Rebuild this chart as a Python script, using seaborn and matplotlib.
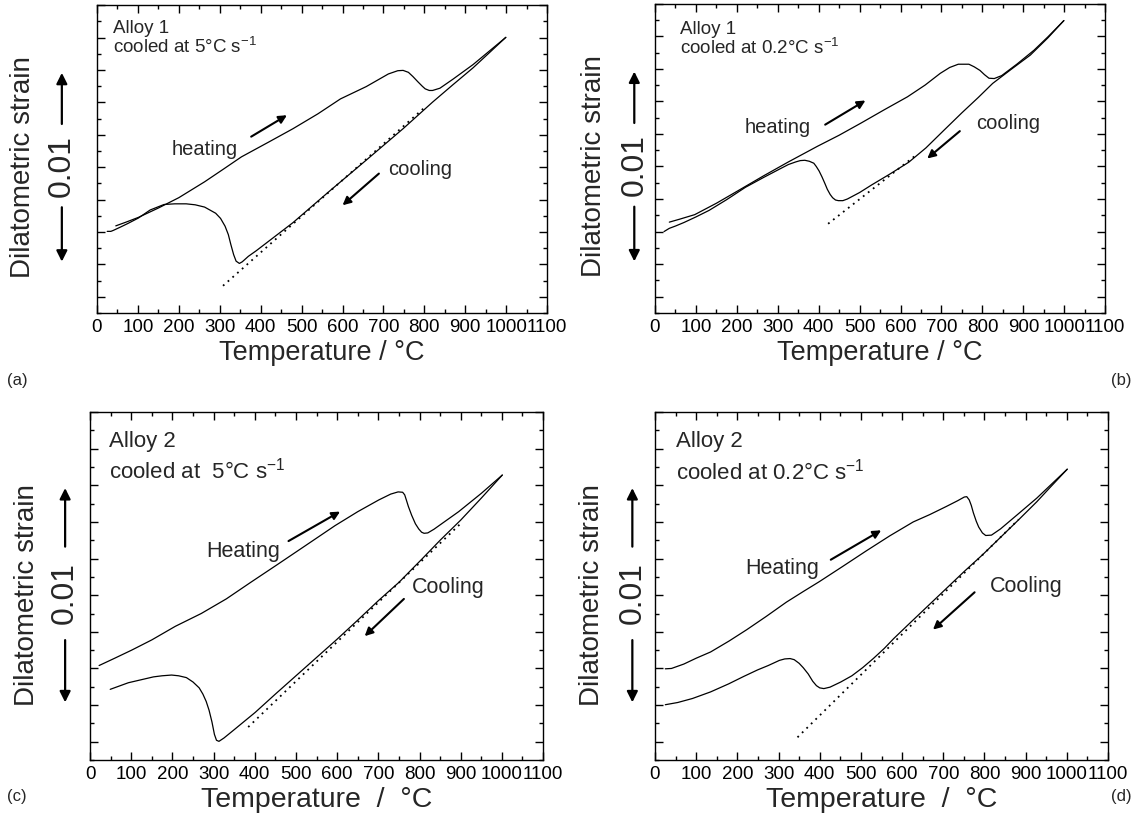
import matplotlib
matplotlib.use("Agg")
import matplotlib.pyplot as plt
import seaborn as sns
from matplotlib.ticker import MultipleLocator, NullFormatter

# y values are in units of one major y tick (6 units = 0.01 strain)

# (a) Alloy 1, cooled at 5 C/s
a_heat_T = [46, 70, 101, 150, 200, 263, 310, 353, 420, 479, 540, 595, 658, 712, 735, 748, 761,
            772, 784, 795, 802, 812, 820, 838, 870, 919, 960, 999]
a_heat_v = [2.19, 2.30, 2.45, 2.74, 3.06, 3.55, 3.95, 4.32, 4.78, 5.19, 5.65, 6.11, 6.49, 6.88, 6.98, 6.99, 6.93,
            6.80, 6.64, 6.50, 6.42, 6.37, 6.37, 6.44, 6.72, 7.17, 7.60, 8.01]
a_cool_T = [999, 960, 919, 870, 820, 748, 658, 568, 479, 389, 370, 355, 348, 340, 334, 327, 321, 313, 302,
            290, 263, 240, 218, 190, 164, 130, 101, 75, 57, 40, 34, 25]
a_cool_v = [8.01, 7.55, 7.07, 6.55, 6.01, 5.19, 4.22, 3.26, 2.29, 1.42, 1.25, 1.08, 1.03, 1.10, 1.30, 1.62, 1.92, 2.18, 2.42,
            2.58, 2.77, 2.84, 2.87, 2.87, 2.85, 2.68, 2.43, 2.26, 2.15, 2.05, 2.02, 2.02]
a_dot_T = [308, 802]
a_dot_v = [0.34, 5.86]

# (b) Alloy 1, cooled at 0.2 C/s
b_heat_T = [35, 60, 97, 150, 194, 265, 326, 397, 450, 503, 560, 617, 660, 697, 720, 741, 767, 780,
            794, 805, 816, 829, 847, 885, 926, 960, 999]
b_heat_v = [2.29, 2.38, 2.52, 2.87, 3.19, 3.71, 4.14, 4.62, 4.96, 5.33, 5.74, 6.14, 6.50, 6.86, 7.04, 7.14, 7.14, 7.06,
            6.95, 6.82, 6.71, 6.70, 6.79, 7.15, 7.57, 7.98, 8.48]
b_cool_T = [999, 960, 917, 870, 825, 790, 750, 705, 662, 620, 573, 529, 500, 485, 470, 459, 448, 441, 434, 428,
            421, 415, 408, 401, 394, 388, 377, 366, 355, 344, 326, 309, 265, 221, 175, 132, 100, 71, 50, 35, 22]
b_cool_v = [8.48, 7.95, 7.42, 6.98, 6.55, 6.12, 5.65, 5.10, 4.57, 4.13, 3.76, 3.43, 3.20, 3.10, 3.00, 2.95, 2.95, 2.97, 3.04, 3.14,
            3.30, 3.48, 3.68, 3.86, 4.00, 4.10, 4.16, 4.19, 4.18, 4.14, 4.06, 3.95, 3.66, 3.36, 2.98, 2.65, 2.45, 2.28, 2.17, 2.10, 2.00]
b_dot_T = [423, 640]
b_dot_v = [2.24, 4.37]

# (c) Alloy 2, cooled at 5 C/s
c_heat_T = [22, 60, 101, 150, 207, 270, 331, 390, 454, 520, 595, 650, 701, 730, 748, 759, 764, 768,
            773, 781, 790, 798, 805, 811, 820, 835, 895, 950, 1001]
c_heat_v = [2.08, 2.28, 2.50, 2.78, 3.15, 3.50, 3.90, 4.35, 4.83, 5.33, 5.90, 6.28, 6.60, 6.76, 6.82, 6.81, 6.74, 6.60,
            6.42, 6.18, 5.95, 5.81, 5.72, 5.69, 5.70, 5.80, 6.28, 6.78, 7.28]
c_cool_T = [1001, 950, 900, 850, 807, 750, 700, 650, 600, 550, 500, 450, 401, 375, 348, 325, 313, 307, 302,
            296, 289, 282, 274, 265, 250, 234, 215, 198, 175, 154, 93, 49]
c_cool_v = [7.28, 6.65, 6.05, 5.50, 5.00, 4.35, 3.85, 3.32, 2.80, 2.30, 1.80, 1.30, 0.80, 0.56, 0.31, 0.10, 0.01, 0.04, 0.20,
            0.54, 0.86, 1.10, 1.30, 1.47, 1.63, 1.75, 1.80, 1.82, 1.80, 1.77, 1.61, 1.43]
c_dot_T = [384, 904]
c_dot_v = [0.40, 6.00]

# (d) Alloy 2, cooled at 0.2 C/s
d_heat_T = [25, 40, 70, 100, 135, 180, 223, 270, 319, 360, 399, 455, 513, 570, 627, 667, 707, 735, 751,
            757, 763, 768, 773, 780, 786, 795, 803, 817, 839, 880, 927, 1001]
d_heat_v = [1.99, 2.00, 2.12, 2.28, 2.45, 2.75, 3.06, 3.42, 3.81, 4.10, 4.37, 4.78, 5.21, 5.62, 6.00, 6.20, 6.42, 6.58, 6.68,
            6.69, 6.60, 6.45, 6.25, 6.02, 5.86, 5.70, 5.63, 5.64, 5.81, 6.20, 6.65, 7.44]
d_cool_T = [1001, 960, 927, 883, 839, 795, 751, 707, 663, 619, 580, 557, 530, 504, 478, 451, 425, 410, 400,
            392, 383, 372, 360, 350, 338, 328, 315, 302, 275, 249, 215, 179, 135, 91, 55, 25]
d_cool_v = [7.44, 6.95, 6.55, 6.06, 5.58, 5.10, 4.65, 4.18, 3.71, 3.24, 2.82, 2.55, 2.27, 2.02, 1.80, 1.63, 1.49, 1.45, 1.47,
            1.53, 1.65, 1.85, 2.02, 2.14, 2.24, 2.27, 2.26, 2.22, 2.08, 1.96, 1.78, 1.58, 1.36, 1.18, 1.07, 1.01]
d_dot_T = [346, 883]
d_dot_v = [0.12, 6.07]

x_ticks = list(range(0, 1101, 100))

sns.set_theme(style="ticks")
plt.rcParams["font.family"] = ["Liberation Sans", "DejaVu Sans"]
plt.rcParams["mathtext.fontset"] = "custom"
plt.rcParams["mathtext.rm"] = "Liberation Sans"
plt.rcParams["mathtext.it"] = "Liberation Sans"

fig = plt.figure(figsize=(11.34, 8.14), dpi=100)

panels = [
    dict(heat=(a_heat_T, a_heat_v), cool=(a_cool_T, a_cool_v), dot=(a_dot_T, a_dot_v),
         rect=[0.0855, 0.6155, 0.397, 0.378], alloy="Alloy 1", rate="cooled at 5°C s$^{-1}$",
         txy=(0.035, 0.925, 0.866), tsize=13.5,
         hl=("heating", 182, 4.56), ha=((371, 4.90), (470, 5.65)),
         cl=("cooling", 712, 3.93), ca=((694, 3.86), (595, 2.77)),
         lsize=14.5, arrx=-0.078, labx=-0.165, xlab="Temperature / °C", xls=19.5,
         tag="(a)", tagxy=(0.006, 1 - 380 / 814), tagha="left"),
    dict(heat=(b_heat_T, b_heat_v), cool=(b_cool_T, b_cool_v), dot=(b_dot_T, b_dot_v),
         rect=[0.5776, 0.6155, 0.397, 0.380], alloy="Alloy 1", rate="cooled at 0.2°C s$^{-1}$",
         txy=(0.055, 0.915, 0.856), tsize=13.5,
         hl=("heating", 220, 5.19), ha=((410, 5.24), (520, 6.07)),
         cl=("cooling", 785, 5.33), ca=((750, 5.14), (660, 4.19)),
         lsize=14.5, arrx=-0.046, labx=-0.135, xlab="Temperature / °C", xls=19.5,
         tag="(b)", tagxy=(0.998, 1 - 380 / 814), tagha="right"),
    dict(heat=(c_heat_T, c_heat_v), cool=(c_cool_T, c_cool_v), dot=(c_dot_T, c_dot_v),
         rect=[0.0794, 0.0663, 0.3995, 0.4275], alloy="Alloy 2", rate="cooled at  5°C s$^{-1}$",
         txy=(0.0425, 0.916, 0.833), tsize=16,
         hl=("Heating", 282, 5.2), ha=((476, 5.44), (613, 6.32)),
         cl=("Cooling", 781, 4.2), ca=((767, 3.95), (662, 2.83)),
         lsize=15.5, arrx=-0.055, labx=-0.14, xlab="Temperature  /  °C", xls=20.5,
         tag="(c)", tagxy=(0.006, 1 - 797 / 814), tagha="left"),
    dict(heat=(d_heat_T, d_heat_v), cool=(d_cool_T, d_cool_v), dot=(d_dot_T, d_dot_v),
         rect=[0.5776, 0.0663, 0.3995, 0.4275], alloy="Alloy 2", rate="cooled at 0.2°C s$^{-1}$",
         txy=(0.046, 0.916, 0.828), tsize=16,
         hl=("Heating", 220, 4.74), ha=((421, 4.93), (555, 5.81)),
         cl=("Cooling", 812, 4.24), ca=((781, 4.13), (670, 3.01)),
         lsize=15.5, arrx=-0.05, labx=-0.14, xlab="Temperature  /  °C", xls=20.5,
         tag="(d)", tagxy=(0.998, 1 - 797 / 814), tagha="right"),
]

for p in panels:
    ax = fig.add_axes(p["rect"])
    sns.lineplot(x=p["heat"][0], y=p["heat"][1], ax=ax, sort=False, estimator=None,
                 color="black", lw=0.9)
    sns.lineplot(x=p["cool"][0], y=p["cool"][1], ax=ax, sort=False, estimator=None,
                 color="black", lw=0.9)
    sns.lineplot(x=p["dot"][0], y=p["dot"][1], ax=ax, sort=False, estimator=None,
                 color="black", lw=1.3, linestyle=(0, (1, 2.5)))

    ax.set_xlim(0, 1100)
    ax.set_ylim(-0.5, 9)
    ax.set_xticks(x_ticks)
    ax.xaxis.set_minor_locator(MultipleLocator(50))
    ax.yaxis.set_major_locator(MultipleLocator(1))
    ax.yaxis.set_minor_locator(MultipleLocator(0.5))
    ax.yaxis.set_major_formatter(NullFormatter())
    ax.tick_params(which="both", direction="in", top=True, right=True, colors="black", width=1)
    ax.tick_params(which="major", length=6)
    ax.tick_params(which="minor", length=3)
    ax.tick_params(axis="x", labelsize=13.5, pad=4)
    for s in ax.spines.values():
        s.set_color("black")
        s.set_linewidth(1)
    ax.set_xlabel(p["xlab"], fontsize=p["xls"], labelpad=3)
    ax.set_ylabel("")

    # panel annotation
    x0, y1, y2 = p["txy"]
    ax.text(x0, y1, p["alloy"], transform=ax.transAxes, fontsize=p["tsize"], va="center")
    ax.text(x0, y2, p["rate"], transform=ax.transAxes, fontsize=p["tsize"], va="center")

    ax.text(p["hl"][1], p["hl"][2], p["hl"][0], fontsize=p["lsize"], va="center")
    ax.text(p["cl"][1], p["cl"][2], p["cl"][0], fontsize=p["lsize"], va="center")
    aprops = dict(arrowstyle="-|>", color="black", lw=1.5, mutation_scale=12)
    ax.annotate("", xy=p["ha"][1], xytext=p["ha"][0], arrowprops=aprops)
    ax.annotate("", xy=p["ca"][1], xytext=p["ca"][0], arrowprops=aprops)

    # y label with 0.01 scale arrow
    tr = ax.get_yaxis_transform()
    ax.text(p["labx"], 4.0, "Dilatometric strain", transform=tr, rotation=90,
            fontsize=20, ha="center", va="center", clip_on=False)
    ax.text(p["arrx"], 4.05, "0.01", transform=tr, rotation=90,
            fontsize=23, ha="center", va="center", clip_on=False)
    sprops = dict(arrowstyle="-|>", color="black", lw=1.6, mutation_scale=16)
    ax.annotate("", xy=(p["arrx"], 7.0), xytext=(p["arrx"], 5.25), xycoords=tr,
                textcoords=tr, arrowprops=sprops, annotation_clip=False)
    ax.annotate("", xy=(p["arrx"], 1.0), xytext=(p["arrx"], 2.85), xycoords=tr,
                textcoords=tr, arrowprops=sprops, annotation_clip=False)

    fig.text(p["tagxy"][0], p["tagxy"][1], p["tag"], fontsize=12, ha=p["tagha"], va="center")

fig.savefig("out.png", dpi=100, facecolor="white")
